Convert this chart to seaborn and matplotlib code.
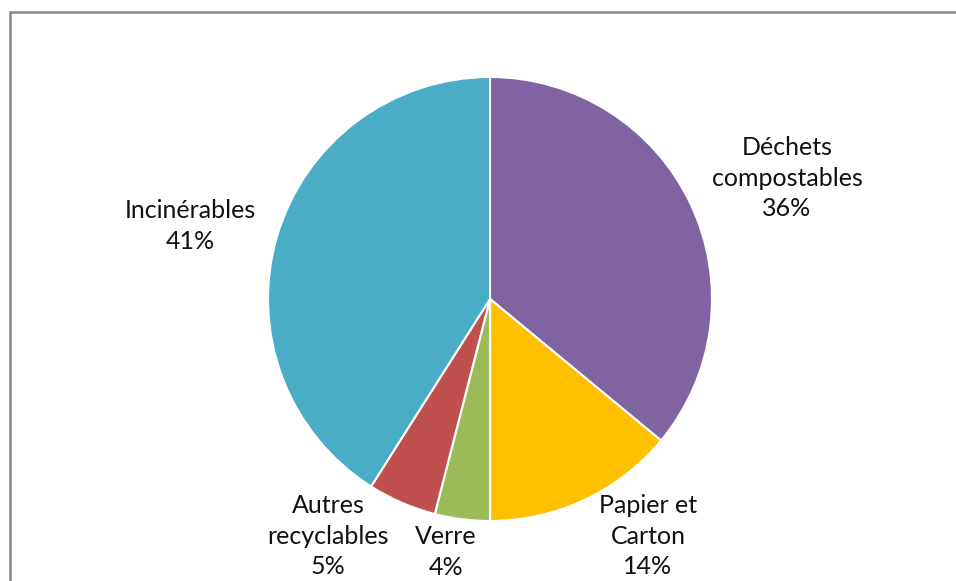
import matplotlib
matplotlib.use("Agg")
import matplotlib.pyplot as plt
import seaborn as sns
from matplotlib.patches import Rectangle

categories = ["Déchets\ncompostables", "Papier et\nCarton", "Verre", "Autres\nrecyclables", "Incinérables"]
values = [36, 14, 4, 5, 41]
colors = ["#8064A2", "#FFC000", "#9BBB59", "#C0504D", "#4BACC6"]

sns.set_theme(style="white")
plt.rcParams['font.family'] = ['Lato', 'DejaVu Sans']

W, H = 956, 581
fig = plt.figure(figsize=(W / 100, H / 100), dpi=100)
ax = fig.add_axes([0, 0, 1, 1])

cx, cy, r = 490, H - 299, 222
ax.pie(values, colors=colors, startangle=90, counterclock=False,
       center=(cx, cy), radius=r, frame=True,
       wedgeprops=dict(edgecolor="white", linewidth=1.5))
ax.set_xlim(0, W)
ax.set_ylim(0, H)
ax.axis("off")

# label anchor centres (pixel space)
label_pos = [(787, 178), (648, 536), (446, 552), (328, 536), (190, 226)]
for cat, v, (lx, ly) in zip(categories, values, label_pos):
    ax.text(lx, H - ly, f"{cat}\n{v}%", ha="center", va="center",
            fontsize=18, color="#111111", linespacing=1.38)

# chart frame (left and top edges visible)
fig.patches.append(Rectangle((10 / W, -0.2), 2.0, (H - 12) / H + 0.2,
                             transform=fig.transFigure, fill=False,
                             edgecolor="#878787", linewidth=1.8))

fig.savefig("out.png", dpi=100)
